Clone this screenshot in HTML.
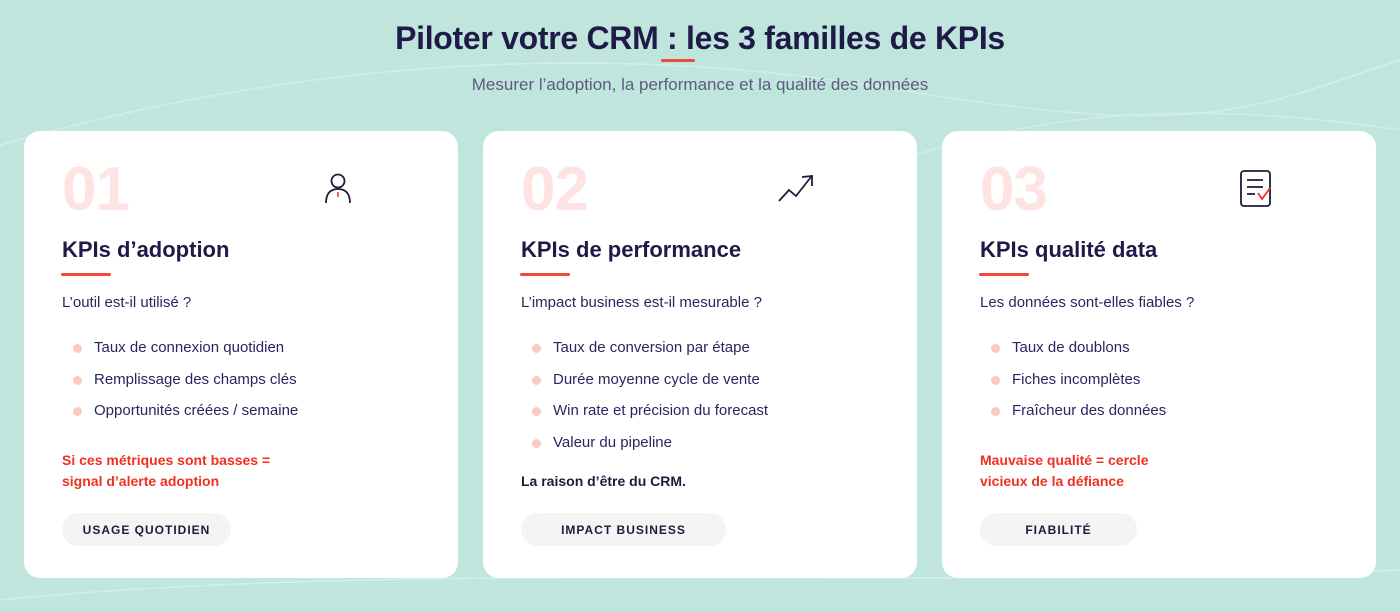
<!DOCTYPE html>
<html><head><meta charset="utf-8"><style>
*{margin:0;padding:0;box-sizing:border-box}
body{width:1400px;height:612px;overflow:hidden;background:#c0e5dc;font-family:"Liberation Sans",sans-serif;position:relative;color:#1e1b3a}
.bgsvg{position:absolute;left:0;top:0}
h1{position:absolute;left:0;width:1400px;top:20px;text-align:center;font-size:32px;font-weight:bold;color:#1f1a48;letter-spacing:-0.3px}
.ul{position:absolute;left:661px;top:59px;width:34px;height:3px;background:#f04a3a;border-radius:2px}
.sub{position:absolute;left:0;width:1400px;top:75px;text-align:center;font-size:17px;color:#5d5a80}
.card{position:absolute;top:131px;width:434px;height:447px;background:#fff;border-radius:16px}
.num{position:absolute;left:38px;top:23px;font-size:62px;font-weight:bold;color:#fde3e2;letter-spacing:-1px}
.icon{position:absolute;top:40px}
.h{position:absolute;left:38px;top:106px;font-size:22px;font-weight:bold;color:#1f1a48}
.bar{position:absolute;left:37px;top:142px;width:50px;height:3px;background:#f04a3a;border-radius:2px}
.q{position:absolute;left:38px;top:163px;font-size:15px;color:#2a2560}
ul{position:absolute;left:38px;top:208px;list-style:none}
li{position:relative;padding-left:32px;font-size:15px;color:#2a2560;height:31.5px;line-height:18px}
li:before{content:"";position:absolute;left:11px;top:5px;width:9px;height:9px;border-radius:50%;background:#fcc9c6}
.r{position:absolute;left:38px;top:319px;font-size:14px;font-weight:bold;color:#f0301e;line-height:21px}
.k{position:absolute;left:38px;top:340px;font-size:14px;font-weight:bold;color:#1e1b3a;line-height:21px}
.pill{position:absolute;top:382px;left:38px;height:33px;border-radius:17px;background:#f3f4f4;font-size:12px;font-weight:bold;letter-spacing:1px;color:#1e1b3a;text-align:center;line-height:35px}
</style></head><body>
<svg class="bgsvg" width="1400" height="612"><g fill="none" stroke="#d8f0ea" stroke-width="1.5" opacity=".8"><path d="M0 145 C300 60 600 40 900 90 S1250 110 1400 60"/><path d="M900 160 C1050 110 1200 100 1400 130"/><path d="M0 600 C400 560 900 590 1400 570"/></g></svg>
<h1>Piloter votre CRM : les 3 familles de KPIs</h1>
<div class="ul"></div>
<div class="sub">Mesurer l’adoption, la performance et la qualité des données</div>

<div class="card" style="left:24px">
<div class="num">01</div>
<svg class="icon" style="left:300px;top:41px" width="30" height="34"><circle cx="14" cy="9" r="6.5" fill="none" stroke="#1e1b3a" stroke-width="1.8"/><path d="M2 31 C2 22 6 17 14 17 C22 17 26 22 26 31" fill="none" stroke="#1e1b3a" stroke-width="1.8"/><line x1="14" y1="20" x2="14" y2="25" stroke="#f0301e" stroke-width="1.5"/></svg>
<div class="h">KPIs d’adoption</div><div class="bar"></div>
<div class="q">L’outil est-il utilisé ?</div>
<ul><li>Taux de connexion quotidien</li><li>Remplissage des champs clés</li><li>Opportunités créées / semaine</li></ul>
<div class="r">Si ces métriques sont basses =<br>signal d’alerte adoption</div>
<div class="pill" style="width:169px">USAGE QUOTIDIEN</div>
</div>

<div class="card" style="left:483px">
<div class="num">02</div>
<svg class="icon" style="left:294px;top:42px" width="40" height="30"><path d="M2 28 L12 17 L19 23 L34 4" fill="none" stroke="#1e1b3a" stroke-width="1.8"/><path d="M25 4 L35 3 L35 13" fill="none" stroke="#1e1b3a" stroke-width="1.8"/></svg>
<div class="h">KPIs de performance</div><div class="bar"></div>
<div class="q">L’impact business est-il mesurable ?</div>
<ul><li>Taux de conversion par étape</li><li>Durée moyenne cycle de vente</li><li>Win rate et précision du forecast</li><li>Valeur du pipeline</li></ul>
<div class="k">La raison d’être du CRM.</div>
<div class="pill" style="width:205px">IMPACT BUSINESS</div>
</div>

<div class="card" style="left:942px">
<div class="num">03</div>
<svg class="icon" style="left:297px;top:38px" width="34" height="40"><rect x="2" y="2" width="29" height="35" rx="3" fill="none" stroke="#1e1b3a" stroke-width="1.8"/><path d="M8 11 H24 M8 18 H24 M8 25 H16" stroke="#1e1b3a" stroke-width="1.8"/><path d="M19 24 L23 30 L31 19" fill="none" stroke="#f0301e" stroke-width="1.8"/></svg>
<div class="h">KPIs qualité data</div><div class="bar"></div>
<div class="q">Les données sont-elles fiables ?</div>
<ul><li>Taux de doublons</li><li>Fiches incomplètes</li><li>Fraîcheur des données</li></ul>
<div class="r">Mauvaise qualité = cercle<br>vicieux de la défiance</div>
<div class="pill" style="width:157px">FIABILITÉ</div>
</div>
</body></html>
